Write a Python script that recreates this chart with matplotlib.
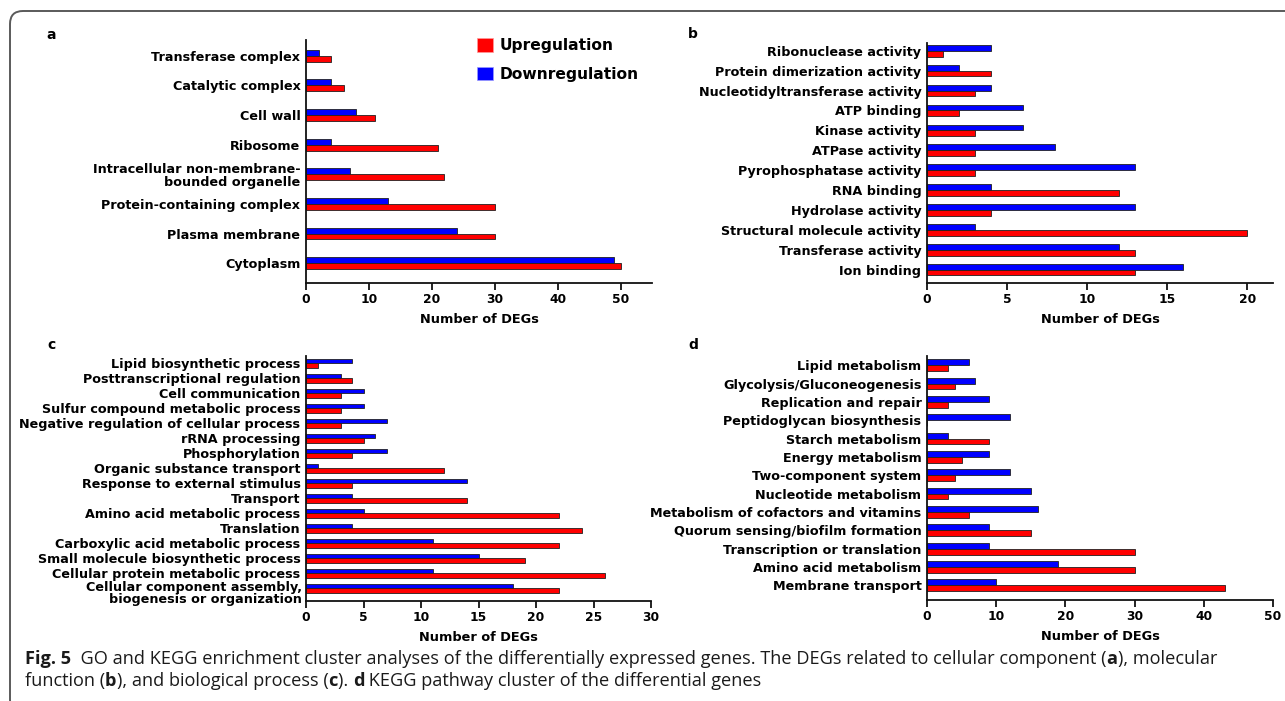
import matplotlib
matplotlib.use("Agg")
import matplotlib.pyplot as plt
import numpy as np
from matplotlib.patches import FancyBboxPatch, Patch
from matplotlib.transforms import IdentityTransform

# ---------------- data ----------------
cc_terms = ["Transferase complex", "Catalytic complex", "Cell wall", "Ribosome",
            "Intracellular non-membrane-\nbounded organelle", "Protein-containing complex",
            "Plasma membrane", "Cytoplasm"]
cc_up = [4, 6, 11, 21, 22, 30, 30, 50]
cc_down = [2, 4, 8, 4, 7, 13, 24, 49]

mf_terms = ["Ribonuclease activity", "Protein dimerization activity",
            "Nucleotidyltransferase activity", "ATP binding", "Kinase activity",
            "ATPase activity", "Pyrophosphatase activity", "RNA binding",
            "Hydrolase activity", "Structural molecule activity",
            "Transferase activity", "Ion binding"]
mf_up = [1, 4, 3, 2, 3, 3, 3, 12, 4, 20, 13, 13]
mf_down = [4, 2, 4, 6, 6, 8, 13, 4, 13, 3, 12, 16]

bp_terms = ["Lipid biosynthetic process", "Posttranscriptional regulation",
            "Cell communication", "Sulfur compound metabolic process",
            "Negative regulation of cellular process", "rRNA processing",
            "Phosphorylation", "Organic substance transport",
            "Response to external stimulus", "Transport",
            "Amino acid metabolic process", "Translation",
            "Carboxylic acid metabolic process", "Small molecule biosynthetic process",
            "Cellular protein metabolic process",
            "Cellular component assembly,\nbiogenesis or organization"]
bp_up = [1, 4, 3, 3, 3, 5, 4, 12, 4, 14, 22, 24, 22, 19, 26, 22]
bp_down = [4, 3, 5, 5, 7, 6, 7, 1, 14, 4, 5, 4, 11, 15, 11, 18]

kegg_terms = ["Lipid metabolism", "Glycolysis/Gluconeogenesis", "Replication and repair",
              "Peptidoglycan biosynthesis", "Starch metabolism", "Energy metabolism",
              "Two-component system", "Nucleotide metabolism",
              "Metabolism of cofactors and vitamins", "Quorum sensing/biofilm formation",
              "Transcription or translation", "Amino acid metabolism", "Membrane transport"]
kegg_up = [3, 4, 3, 0, 9, 5, 4, 3, 6, 15, 30, 30, 43]
kegg_down = [6, 7, 9, 12, 3, 9, 12, 15, 16, 9, 9, 19, 10]

series_labels = ["Upregulation", "Downregulation"]
x_title = "Number of DEGs"

# ---------------- styling ----------------
W, H = 1285, 701
UP_COLOR = "#FF0000"
DOWN_COLOR = "#0000FF"
EDGE = "#202020"
FONT = "DejaVu Sans"
plt.rcParams["font.family"] = [FONT]

fig = plt.figure(figsize=(W / 100, H / 100), dpi=100)


def axes_px(left, top, right, bottom):
    return fig.add_axes([left / W, 1 - bottom / H, (right - left) / W, (bottom - top) / H])


def panel(ax, terms, up, down, xmax, ticks, pad_top, pad_bot, bar_h,
          label_size=9.2, lsp=1.0, top_anchored=()):
    y = np.arange(len(terms))
    ax.barh(y - bar_h / 2, down, height=bar_h, color=DOWN_COLOR, edgecolor=EDGE, linewidth=0.6)
    ax.barh(y + bar_h / 2, up, height=bar_h, color=UP_COLOR, edgecolor=EDGE, linewidth=0.6)
    ax.set_yticks(y)
    labels = ["" if i in top_anchored else t for i, t in enumerate(terms)]
    ax.set_yticklabels(labels, fontsize=label_size, fontweight="bold", linespacing=lsp)
    # multi-line labels whose first line sits level with the bars
    for i in top_anchored:
        ax.annotate(terms[i], xy=(0, y[i]), xycoords=("axes fraction", "data"),
                    xytext=(-4, 7), textcoords="offset pixels",
                    ha="right", va="top", fontsize=label_size, fontweight="bold",
                    linespacing=lsp, annotation_clip=False)
    ax.set_ylim(len(terms) - 1 + pad_bot, -pad_top)
    ax.set_xlim(0, xmax)
    ax.set_xticks(ticks)
    ax.set_xticklabels([str(t) for t in ticks], fontsize=8.8, fontweight="bold")
    for s in ("top", "right"):
        ax.spines[s].set_visible(False)
    for s in ("left", "bottom"):
        ax.spines[s].set_linewidth(1.3)
        ax.spines[s].set_color("#111111")
    ax.tick_params(axis="y", length=0, pad=4)
    ax.tick_params(axis="x", length=5, width=1.3, pad=2, color="#111111")
    ax.set_xlabel(x_title, fontsize=9.3, fontweight="bold", labelpad=5)
    ax.set_facecolor("none")


ax_a = axes_px(306, 40, 652, 283)
panel(ax_a, cc_terms, cc_up, cc_down, 55, [0, 10, 20, 30, 40, 50], 0.53, 0.67, 0.2, lsp=1.0)

ax_b = axes_px(927, 43, 1273, 283)
panel(ax_b, mf_terms, mf_up, mf_down, 21.6, [0, 5, 10, 15, 20], 0.39, 0.67, 0.29)

ax_c = axes_px(306, 356, 651, 601)
panel(ax_c, bp_terms, bp_up, bp_down, 30, [0, 5, 10, 15, 20, 25, 30], 0.49, 0.85, 0.3,
      lsp=0.88, top_anchored=(len(bp_terms) - 1,))

ax_d = axes_px(927, 356, 1273, 600)
panel(ax_d, kegg_terms, kegg_up, kegg_down, 50, [0, 10, 20, 30, 40, 50], 0.5, 0.8, 0.32)

# legend for the up/down series
handles = [Patch(facecolor=UP_COLOR, edgecolor="#ff9999", linewidth=0.5),
           Patch(facecolor=DOWN_COLOR, edgecolor="#9999ff", linewidth=0.5)]
ax_a.legend(handles, series_labels, loc="upper left",
            bbox_to_anchor=(477 / W, 1 - 38 / H), bbox_transform=fig.transFigure,
            frameon=False, prop={"weight": "bold", "size": 11.2},
            handlelength=1.0, handleheight=1.0, handletextpad=0.45,
            labelspacing=0.85, borderpad=0, borderaxespad=0)

# panel letters
for letter, (px, py) in zip("abcd", [(51, 35), (693, 34), (51, 345), (693, 345)]):
    fig.text(px / W, 1 - py / H, letter, fontsize=10, fontweight="bold",
             ha="center", va="center")

# rounded frame around the figure (drawn in pixel units, open past the right/bottom edges)
frame = FancyBboxPatch((10, -12), 1500, H - 11 + 12,
                       boxstyle="round,pad=0,rounding_size=13",
                       transform=IdentityTransform(), fill=False,
                       edgecolor="#5a5a5a", linewidth=1.4, clip_on=False)
fig.patches.append(frame)

# caption with mixed bold / regular runs
CAP_FONT = "Open Sans"
CAP_SIZE = 13.08
renderer = fig.canvas.get_renderer()


def run_width(text, weight):
    probe = fig.text(0, 0, text + "|", fontsize=CAP_SIZE, family=CAP_FONT, fontweight=weight)
    bar = fig.text(0, 0, "|", fontsize=CAP_SIZE, family=CAP_FONT, fontweight=weight)
    w = probe.get_window_extent(renderer).width - bar.get_window_extent(renderer).width
    probe.remove()
    bar.remove()
    return w


def caption_line(x_px, y_px, runs):
    x = x_px
    for text, weight in runs:
        fig.text(x / W, 1 - y_px / H, text, fontsize=CAP_SIZE, family=CAP_FONT,
                 fontweight=weight, ha="left", va="baseline", color="#1a1a1a")
        x += run_width(text, weight)


caption_line(25, 664, [("Fig. 5", "bold"),
                       ("  GO and KEGG enrichment cluster analyses of the differentially expressed genes. "
                        "The DEGs related to cellular component (", "normal"),
                       ("a", "bold"), ("), molecular", "normal")])
caption_line(25, 686, [("function (", "normal"), ("b", "bold"),
                       ("), and biological process (", "normal"), ("c", "bold"),
                       ("). ", "normal"), ("d", "bold"),
                       (" KEGG pathway cluster of the differential genes", "normal")])

fig.savefig("out.png", dpi=100, facecolor="white")
